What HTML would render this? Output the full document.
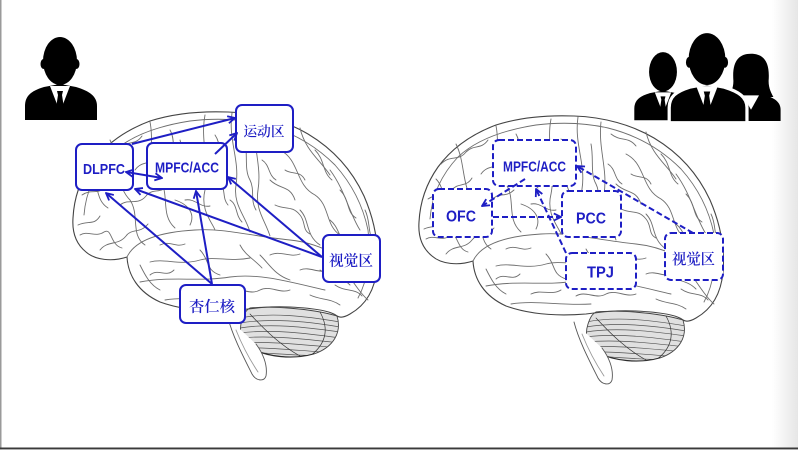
<!DOCTYPE html>
<html><head><meta charset="utf-8"><style>
html,body{margin:0;padding:0;background:#fff;}
svg{display:block;}
.lt{font-family:"Liberation Sans",Arial,sans-serif;font-weight:bold;fill:#1e1ec4;}
.cj{font-family:"Liberation Serif","Noto Serif CJK SC",serif;font-weight:600;fill:#1e1ec4;}
</style></head><body>
<svg width="798" height="450" viewBox="0 0 798 450" xmlns="http://www.w3.org/2000/svg">
<defs>
<linearGradient id="rg" x1="0" x2="1" y1="0" y2="0">
<stop offset="0" stop-color="#fff"/><stop offset="1" stop-color="#e6e6e6"/></linearGradient>
<marker id="ah" viewBox="0 0 10 10" refX="9" refY="5" markerWidth="9" markerHeight="9" markerUnits="userSpaceOnUse" orient="auto-start-reverse">
<path d="M1,1 L9,5 L1,9" fill="none" stroke="#1e1ec4" stroke-width="2" stroke-dasharray="none"/></marker>
<clipPath id="cb"><path d="M337,316 C342,332 334,347 314,354 C293,360 268,357 252,349 C242,343 238,332 242,320 C244,314 246,310 250,308 C270,306 310,308 337,316 Z"/></clipPath>
<g id="brain" fill="none" stroke="#6e6e6e" stroke-width="0.9" stroke-linecap="round">
<!-- cerebellum -->
<path d="M337,316 C342,332 334,347 314,354 C293,360 268,357 252,349 C242,343 238,332 242,320 C244,314 246,310 250,308 C270,306 310,308 337,316 Z" fill="#e0e0e0" stroke="#444"/>
<g clip-path="url(#cb)" stroke="#555" stroke-width="0.7">
<path d="M240,318 C270,312 305,316 340,322"/><path d="M240,323 C270,318 305,321 340,327"/>
<path d="M240,328 C270,323 305,327 340,332"/><path d="M240,333 C270,329 305,333 340,338"/>
<path d="M240,338 C270,335 305,339 340,343"/><path d="M240,343 C270,341 305,345 340,348"/>
<path d="M240,348 C270,347 300,351 340,353"/><path d="M245,352 C270,353 300,356 330,356"/>
<path d="M250,314 C265,330 280,345 300,356" stroke="#333"/>
<path d="M320,312 C330,330 325,345 310,356" stroke="#333"/>
<path d="M252,349 C268,357 293,360 314,354" stroke="#222" stroke-width="1.4"/>
</g>
<!-- brainstem -->
<path d="M228,318 C233,337 243,356 252,374 C256,381 264,382 266,376 C268,364 262,352 256,344" fill="#fff" stroke="#555"/>
<path d="M236,330 C242,345 250,360 258,372" stroke="#999"/>
<!-- cerebrum outline -->
<path d="M127,257 C112,262 95,260 86,252 C76,244 72,232 73,218 C74,198 80,180 92,163 C106,144 126,130 150,121 C175,113 202,111 228,112 C258,113 286,121 308,134 C333,149 352,170 364,196 C374,219 379,244 377,268 C375,290 366,305 350,314 C345,317 340,318 337,316" stroke="#444" stroke-width="1.1"/>
<path d="M127,257 C128,275 138,292 160,302 C185,311 215,312 240,310 C255,308 270,306 290,307 C310,308 330,310 337,316" stroke="#444" stroke-width="1.1"/>
<!-- inner band -->
<path d="M84,215 C86,190 96,170 112,153 C130,136 158,126 190,121 C215,118 240,119 262,124 C290,131 315,145 335,165 C352,184 363,206 368,230 C371,255 368,280 358,298"/>
<path d="M80,235 C88,230 95,238 104,232 C112,227 110,245 122,248"/>
<!-- sylvian / temporal -->
<path d="M127,257 C135,240 160,232 195,230 C225,228 250,236 290,240 C310,242 330,250 348,262"/>
<path d="M140,282 C170,276 200,282 230,277 C260,273 290,282 325,290"/>
<path d="M150,262 C165,258 180,266 200,260 C215,256 230,262 250,258"/>
<path d="M165,300 C190,296 215,302 245,300"/>
<!-- sulci -->
<path d="M232,113 C228,140 240,160 236,185 C233,205 245,215 250,232"/>
<path d="M255,118 C252,145 262,165 258,190 C255,210 265,220 270,236"/>
<path d="M205,115 C200,140 210,165 205,190 C200,210 212,222 215,230"/>
<path d="M150,122 C155,145 145,165 160,180 C170,195 160,215 175,228"/>
<path d="M110,140 C120,160 115,185 130,200 C140,215 130,235 145,245"/>
<path d="M90,175 C100,185 95,200 108,208"/>
<path d="M280,150 C300,160 295,185 315,195 C330,205 325,225 340,235"/>
<path d="M300,128 C305,150 320,160 330,175"/>
<path d="M330,170 C345,190 350,215 360,230"/>
<path d="M345,270 C355,285 362,295 368,300"/>
<path d="M300,210 C310,220 305,235 320,245"/>
<path d="M260,255 C270,265 275,275 290,280"/>
<path d="M200,250 C210,260 205,270 220,275"/>
<path d="M180,140 C185,155 178,165 188,175"/>
<path d="M270,180 C280,190 290,185 295,200"/>
<path d="M320,270 C330,278 340,275 350,285"/>
<path d="M175,200 C190,205 195,215 190,225"/>
<!-- extra gyri -->
<path d="M95,160 C105,150 112,158 120,148 C128,140 135,146 142,136"/>
<path d="M82,195 C92,188 98,196 106,186 C112,178 120,184 126,174"/>
<path d="M78,225 C88,220 94,226 100,216"/>
<path d="M100,250 C108,240 118,246 126,236 C132,228 140,234 148,224"/>
<path d="M120,205 C128,198 138,206 146,196 C152,188 160,194 168,186"/>
<path d="M135,170 C142,160 150,166 158,156"/>
<path d="M170,130 C176,140 170,150 180,158 C188,166 182,176 192,184"/>
<path d="M185,200 C195,198 200,208 210,206"/>
<path d="M160,245 C170,240 175,248 185,244"/>
<path d="M215,135 C222,145 218,158 226,166"/>
<path d="M245,140 C248,155 244,170 250,180 C255,190 250,200 256,210"/>
<path d="M265,130 C275,138 282,132 290,142"/>
<path d="M275,205 C285,210 292,205 300,215 C306,222 302,230 310,234"/>
<path d="M230,200 C238,205 235,215 242,222"/>
<path d="M285,170 C292,175 300,170 305,180"/>
<path d="M315,150 C325,160 322,172 332,180"/>
<path d="M340,190 C350,200 346,212 356,218"/>
<path d="M330,220 C340,228 338,240 350,246"/>
<path d="M355,245 C362,255 360,265 368,272"/>
<path d="M335,285 C345,292 355,288 362,296"/>
<path d="M310,295 C320,300 330,298 340,305"/>
<path d="M365,210 C370,220 368,230 372,240"/>
<path d="M150,275 C158,268 166,278 174,270"/>
<path d="M185,290 C195,285 205,292 215,286"/>
<path d="M230,292 C240,286 250,296 260,290 C270,285 280,294 290,290"/>
<path d="M270,255 C280,250 290,258 300,254"/>
<path d="M300,270 C310,266 318,274 328,270"/>
<path d="M140,265 C145,275 150,285 160,290"/>
<path d="M240,245 C245,255 255,260 262,268"/>
<path d="M195,145 C200,158 192,168 198,178"/>
<path d="M220,180 C226,190 222,198 228,205"/>
<path d="M262,160 C270,165 268,175 276,180"/>
</g>
</defs>

<!-- frame -->
<rect x="772" y="0" width="26" height="450" fill="url(#rg)"/>
<rect x="0" y="0" width="1.5" height="450" fill="#9a9a9a"/>
<rect x="0" y="447.5" width="798" height="1.6" fill="#3a3a3a"/>
<rect x="0" y="449.1" width="798" height="1" fill="#aaa"/>

<!-- brains -->
<use href="#brain"/>
<use href="#brain" transform="translate(346,4)"/>

<!-- left person -->
<g>
<ellipse cx="60" cy="61" rx="17" ry="24" fill="#000"/>
<ellipse cx="43.5" cy="64" rx="3" ry="5" fill="#000"/>
<ellipse cx="76.5" cy="64" rx="3" ry="5" fill="#000"/>
<path d="M25,120 L25,106 C25,96 31,91 44,87 L60,84 L76,87 C89,91 97,96 97,106 L97,120 Z" fill="#000"/>
<path d="M50,86 L70,86 L60,112 Z" fill="#fff"/>
<path d="M57,91 L63,91 L62,95 L64,108 L60,113 L56,108 L58,95 Z" fill="#000"/>
</g>

<!-- group icon -->
<g transform="translate(663,71) scale(0.82) translate(-60,-60)">
<ellipse cx="60" cy="61" rx="17" ry="24" fill="#000"/>
<path d="M25,120 L25,106 C25,96 31,91 44,87 L60,84 L76,87 C89,91 97,96 97,106 L97,120 Z" fill="#000"/>
<path d="M50,86 L70,86 L60,112 Z" fill="#fff"/>
<path d="M57,91 L63,91 L62,95 L64,108 L60,113 L56,108 L58,95 Z" fill="#000"/>
</g>
<g transform="translate(751,73) scale(0.8) translate(-60,-60)">
<path d="M38,70 C36,45 45,36 60,36 C75,36 84,45 82,70 C82,80 86,86 88,90 L32,90 C34,86 38,80 38,70 Z" fill="#000"/>
<path d="M25,120 L25,106 C25,96 31,91 44,87 L60,84 L76,87 C89,91 97,96 97,106 L97,120 Z" fill="#000"/>
<path d="M50,88 L70,88 L60,106 Z" fill="#fff"/>
</g>
<g transform="translate(707,58) scale(1.08) translate(-60,-60)">
<ellipse cx="60" cy="61" rx="17" ry="24" fill="#000" stroke="#fff" stroke-width="3"/>
<path d="M25,120 L25,106 C25,96 31,91 44,87 L60,84 L76,87 C89,91 97,96 97,106 L97,120 Z" fill="#000" stroke="#fff" stroke-width="3"/>
<ellipse cx="60" cy="61" rx="17" ry="24" fill="#000"/>
<ellipse cx="43.5" cy="64" rx="3" ry="5" fill="#000"/>
<ellipse cx="76.5" cy="64" rx="3" ry="5" fill="#000"/>
<path d="M50,86 L70,86 L60,112 Z" fill="#fff"/>
<path d="M57,91 L63,91 L62,95 L64,108 L60,113 L56,108 L58,95 Z" fill="#000"/>
</g>

<!-- left boxes -->
<g fill="#fff" stroke="#1e1ec4" stroke-width="2">
<rect x="76" y="144" width="57" height="46" rx="6"/>
<rect x="147" y="143" width="80" height="46" rx="6"/>
<rect x="236" y="105" width="57" height="47" rx="6"/>
<rect x="323" y="235" width="57" height="47" rx="6"/>
<rect x="180" y="285" width="65" height="38" rx="6"/>
</g>
<!-- left arrows -->
<g stroke="#1e1ec4" stroke-width="2" fill="none" marker-end="url(#ah)">
<line x1="132" y1="144" x2="235" y2="118"/>
<line x1="215" y1="154" x2="237" y2="133"/>
<line x1="126" y1="172" x2="162" y2="178" marker-start="url(#ah)"/>
<line x1="212" y1="284" x2="106" y2="193"/>
<line x1="212" y1="284" x2="196" y2="191"/>
<line x1="322" y1="257" x2="135" y2="189"/>
<line x1="322" y1="257" x2="228" y2="177"/>
</g>
<text class="lt" x="104" y="174" font-size="15" text-anchor="middle" textLength="42" lengthAdjust="spacingAndGlyphs">DLPFC</text>
<text class="lt" x="187" y="172.5" font-size="15" text-anchor="middle" textLength="64" lengthAdjust="spacingAndGlyphs">MPFC/ACC</text>
<text class="cj" x="264" y="136.5" font-size="14" text-anchor="middle" textLength="41" lengthAdjust="spacingAndGlyphs">运动区</text>
<text class="cj" x="351" y="265.5" font-size="15" text-anchor="middle" textLength="44" lengthAdjust="spacingAndGlyphs">视觉区</text>
<text class="cj" x="212" y="311.5" font-size="15" text-anchor="middle" textLength="46" lengthAdjust="spacingAndGlyphs">杏仁核</text>

<!-- right boxes -->
<g fill="#fff" stroke="#1e1ec4" stroke-width="2" stroke-dasharray="6 3">
<rect x="493" y="140" width="83" height="46" rx="6"/>
<rect x="433" y="189" width="59" height="48" rx="6"/>
<rect x="562" y="191" width="59" height="46" rx="6"/>
<rect x="566" y="253" width="70" height="36" rx="6"/>
<rect x="665" y="233" width="58" height="47" rx="6"/>
</g>
<g stroke="#1e1ec4" stroke-width="2" fill="none" stroke-dasharray="6 3" marker-end="url(#ah)">
<line x1="525" y1="179" x2="482" y2="206"/>
<line x1="493" y1="217" x2="561" y2="217"/>
<line x1="566" y1="253" x2="536" y2="189"/>
<line x1="693" y1="233" x2="577" y2="166"/>
</g>
<text class="lt" x="534.5" y="171.5" font-size="15" text-anchor="middle" textLength="63" lengthAdjust="spacingAndGlyphs">MPFC/ACC</text>
<text class="lt" x="461" y="221.5" font-size="15.5" text-anchor="middle" textLength="30" lengthAdjust="spacingAndGlyphs">OFC</text>
<text class="lt" x="591" y="223.5" font-size="15.5" text-anchor="middle" textLength="30" lengthAdjust="spacingAndGlyphs">PCC</text>
<text class="lt" x="600.5" y="277.5" font-size="15.5" text-anchor="middle" textLength="27" lengthAdjust="spacingAndGlyphs">TPJ</text>
<text class="cj" x="693.5" y="264" font-size="15" text-anchor="middle" textLength="43" lengthAdjust="spacingAndGlyphs">视觉区</text>
</svg>
</body></html>
